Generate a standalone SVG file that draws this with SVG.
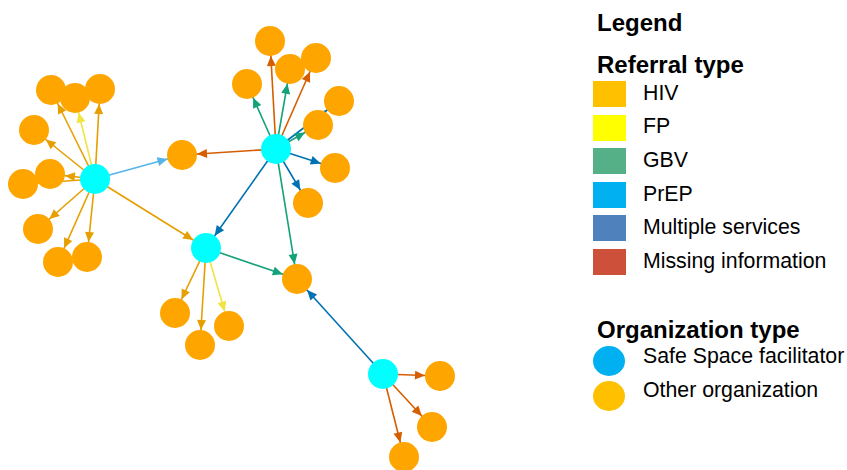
<svg xmlns="http://www.w3.org/2000/svg" width="847" height="470" viewBox="0 0 847 470">
<style>
.e{stroke-width:1.6;fill:none}
.hiv{stroke:#E69F00;marker-end:url(#m-hiv)}
.fp{stroke:#F0E442;marker-end:url(#m-fp)}
.gbv{stroke:#14A27A;marker-end:url(#m-gbv)}
.prep{stroke:#56B4E9;marker-end:url(#m-prep)}
.multi{stroke:#0072B2;marker-end:url(#m-multi)}
.miss{stroke:#D55E00;marker-end:url(#m-miss)}
.hub{fill:#00FFFF}
.org{fill:#FFA500}
.t{font-family:"Liberation Sans",Arial,sans-serif;font-size:21.3px;fill:#000}
.h{font-family:"Liberation Sans",Arial,sans-serif;font-size:24px;font-weight:bold;fill:#000}
</style>
<defs>
<marker id="m-hiv" viewBox="-26 -5 26 10" markerWidth="26" markerHeight="10" refX="0" refY="0" orient="auto" markerUnits="userSpaceOnUse"><path d="M-25,-4.5 L-15,0 L-25,4.5 Z" fill="#E69F00"/></marker>
<marker id="m-fp" viewBox="-26 -5 26 10" markerWidth="26" markerHeight="10" refX="0" refY="0" orient="auto" markerUnits="userSpaceOnUse"><path d="M-25,-4.5 L-15,0 L-25,4.5 Z" fill="#F0E442"/></marker>
<marker id="m-gbv" viewBox="-26 -5 26 10" markerWidth="26" markerHeight="10" refX="0" refY="0" orient="auto" markerUnits="userSpaceOnUse"><path d="M-25,-4.5 L-15,0 L-25,4.5 Z" fill="#14A27A"/></marker>
<marker id="m-prep" viewBox="-26 -5 26 10" markerWidth="26" markerHeight="10" refX="0" refY="0" orient="auto" markerUnits="userSpaceOnUse"><path d="M-25,-4.5 L-15,0 L-25,4.5 Z" fill="#56B4E9"/></marker>
<marker id="m-multi" viewBox="-26 -5 26 10" markerWidth="26" markerHeight="10" refX="0" refY="0" orient="auto" markerUnits="userSpaceOnUse"><path d="M-25,-4.5 L-15,0 L-25,4.5 Z" fill="#0072B2"/></marker>
<marker id="m-miss" viewBox="-26 -5 26 10" markerWidth="26" markerHeight="10" refX="0" refY="0" orient="auto" markerUnits="userSpaceOnUse"><path d="M-25,-4.5 L-15,0 L-25,4.5 Z" fill="#D55E00"/></marker>
</defs>
<rect width="847" height="470" fill="#fff"/>
<g id="connectors">
<line class="e hiv" x1="95" y1="179" x2="51" y2="90"/>
<line class="e fp" x1="95" y1="179" x2="75" y2="98"/>
<line class="e hiv" x1="95" y1="179" x2="100" y2="89"/>
<line class="e hiv" x1="95" y1="179" x2="34" y2="130"/>
<line class="e hiv" x1="95" y1="179" x2="23" y2="184"/>
<line class="e hiv" x1="95" y1="179" x2="50" y2="174"/>
<line class="e hiv" x1="95" y1="179" x2="38" y2="229"/>
<line class="e hiv" x1="95" y1="179" x2="58" y2="262"/>
<line class="e hiv" x1="95" y1="179" x2="87" y2="257"/>
<line class="e prep" x1="95" y1="179" x2="182" y2="155"/>
<line class="e hiv" x1="95" y1="179" x2="206" y2="248"/>
<line class="e miss" x1="276" y1="149" x2="270" y2="41"/>
<line class="e gbv" x1="276" y1="149" x2="247" y2="84"/>
<line class="e gbv" x1="276" y1="149" x2="290" y2="69"/>
<line class="e miss" x1="276" y1="149" x2="316" y2="58"/>
<line class="e multi" x1="276" y1="149" x2="339" y2="101"/>
<line class="e gbv" x1="276" y1="149" x2="318" y2="125"/>
<line class="e multi" x1="276" y1="149" x2="335" y2="168"/>
<line class="e multi" x1="276" y1="149" x2="308" y2="203"/>
<line class="e miss" x1="276" y1="149" x2="182" y2="155"/>
<line class="e multi" x1="276" y1="149" x2="206" y2="248"/>
<line class="e gbv" x1="276" y1="149" x2="297" y2="279"/>
<line class="e hiv" x1="206" y1="248" x2="175" y2="313"/>
<line class="e hiv" x1="206" y1="248" x2="200" y2="345"/>
<line class="e fp" x1="206" y1="248" x2="229" y2="326"/>
<line class="e gbv" x1="206" y1="248" x2="297" y2="279"/>
<line class="e multi" x1="383" y1="374" x2="297" y2="279"/>
<line class="e miss" x1="383" y1="374" x2="440" y2="376"/>
<line class="e miss" x1="383" y1="374" x2="432" y2="427"/>
<line class="e miss" x1="383" y1="374" x2="404" y2="457"/>
</g>
<g id="nodes">
<g id="n1"><circle class="org" cx="51" cy="90" r="15"/></g>
<g id="n3"><circle class="org" cx="100" cy="89" r="15"/></g>
<g id="n2"><circle class="org" cx="75" cy="98" r="15"/></g>
<g id="n4"><circle class="org" cx="34" cy="130" r="15"/></g>
<g id="n6"><circle class="org" cx="23" cy="184" r="15"/></g>
<g id="n5"><circle class="org" cx="50" cy="174" r="15"/></g>
<g id="n7"><circle class="org" cx="38" cy="229" r="15"/></g>
<g id="n8"><circle class="org" cx="58" cy="262" r="15"/></g>
<g id="n9"><circle class="org" cx="87" cy="257" r="15"/></g>
<g id="n10"><circle class="org" cx="182" cy="155" r="15"/></g>
<g id="n11"><circle class="org" cx="270" cy="41" r="15"/></g>
<g id="n12"><circle class="org" cx="247" cy="84" r="15"/></g>
<g id="n14"><circle class="org" cx="316" cy="58" r="15"/></g>
<g id="n13"><circle class="org" cx="290" cy="69" r="15"/></g>
<g id="n15"><circle class="org" cx="339" cy="101" r="15"/></g>
<g id="n16"><circle class="org" cx="318" cy="125" r="15"/></g>
<g id="n17"><circle class="org" cx="335" cy="168" r="15"/></g>
<g id="n18"><circle class="org" cx="308" cy="203" r="15"/></g>
<g id="n19"><circle class="org" cx="175" cy="313" r="15"/></g>
<g id="n20"><circle class="org" cx="200" cy="345" r="15"/></g>
<g id="n21"><circle class="org" cx="229" cy="326" r="15"/></g>
<g id="n22"><circle class="org" cx="297" cy="279" r="15"/></g>
<g id="n23"><circle class="org" cx="440" cy="376" r="15"/></g>
<g id="n24"><circle class="org" cx="432" cy="427" r="15"/></g>
<g id="n25"><circle class="org" cx="404" cy="457" r="15"/></g>
<g id="hubA"><circle class="hub" cx="95" cy="179" r="15"/></g>
<g id="hubB"><circle class="hub" cx="276" cy="149" r="15"/></g>
<g id="hubC"><circle class="hub" cx="206" cy="248" r="15"/></g>
<g id="hubD"><circle class="hub" cx="383" cy="374" r="15"/></g>
</g>
<g id="legend">
<text class="h" x="597" y="31">Legend</text>
<text class="h" x="597" y="73">Referral type</text>
<rect x="593" y="81" width="33" height="26" fill="#FFC000"/>
<text class="t" x="643" y="100">HIV</text>
<rect x="593" y="115" width="33" height="26" fill="#FFFF00"/>
<text class="t" x="643" y="133">FP</text>
<rect x="593" y="148" width="33" height="26" fill="#55B088"/>
<text class="t" x="643" y="167">GBV</text>
<rect x="593" y="182" width="33" height="26" fill="#00B0F0"/>
<text class="t" x="643" y="201">PrEP</text>
<rect x="593" y="215" width="33" height="26" fill="#4F81BD"/>
<text class="t" x="643" y="234">Multiple services</text>
<rect x="593" y="249" width="33" height="26" fill="#CD503B"/>
<text class="t" x="643" y="268">Missing information</text>
<text class="h" x="597" y="338">Organization type</text>
<ellipse cx="609" cy="361" rx="16" ry="15" fill="#00B0F0"/>
<text class="t" x="643" y="363">Safe Space facilitator</text>
<ellipse cx="609" cy="396" rx="16" ry="15" fill="#FFC000"/>
<text class="t" x="643" y="397">Other organization</text>
</g>
</svg>
